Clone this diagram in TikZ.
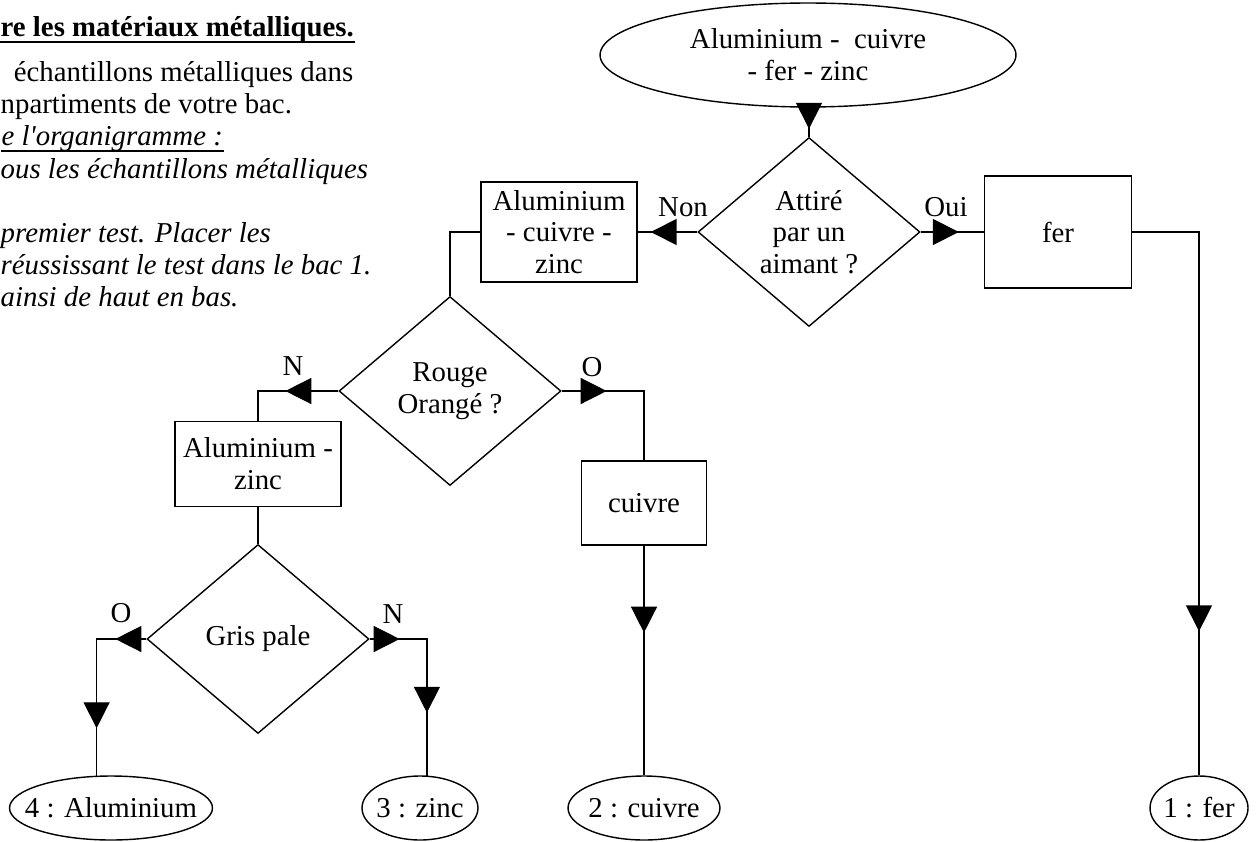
\documentclass[tikz,border=0pt]{standalone}
\usepackage{fontspec}
\setmainfont{Liberation Serif}
\usetikzlibrary{arrows.meta}
\usetikzlibrary{shapes.geometric}
\usetikzlibrary{decorations.markings}

\tikzset{
  flowtip/.tip={Triangle[length=5.2mm,width=5.2mm]},
  tipat/.style={postaction={decorate,decoration={markings,mark=at position #1 with {\arrow{flowtip}}}}},
  testbox/.style={draw,diamond,inner sep=0pt,minimum width=4.44cm,minimum height=3.78cm,align=center},
  lotbox/.style={draw,rectangle,inner sep=0pt,align=center},
  bacbox/.style={draw,ellipse,inner sep=0pt,minimum height=1.28cm},
  consigne/.style={anchor=base west,inner sep=0pt},
  souligne/.style={line width=0.9pt},
}

\begin{document}
\begin{tikzpicture}[x=0.02cm,y=-0.02cm,font=\fontsize{16.4}{18.1}\selectfont,line width=0.8pt]
            \useasboundingbox (0,0) rectangle (1256,841);
            \clip (0,0) rectangle (1256,841);

            % Consigne (cut on the left side)
            \node[consigne] (T1) at (0,37) {\textbf{re les matériaux métalliques.}};
            \node[consigne] (T2) at (6,82) {\ échantillons métalliques dans};
            \node[consigne] (T3) at (0,114) {npartiments de votre bac.};
            \node[consigne] (T4) at (1,146) {\itshape e l\textquotesingle organigramme :};
            \node[consigne] (T5) at (0,178) {\itshape ous les échantillons métalliques};
            \node[consigne] (T6) at (0,242) {\itshape premier test. Placer les};
            \node[consigne] (T7) at (0,274) {\itshape réussissant le test dans le bac 1.};
            \node[consigne] (T8) at (0,306) {\itshape ainsi de haut en bas.};
            \draw[souligne] ([yshift=-3pt]T1.base west) -- ([yshift=-3pt]T1.base east);
            \draw[souligne] ([yshift=-3pt]T4.base west) -- ([yshift=-3pt]T4.base east);

            % Draw start, tests and lots
            \node[draw,ellipse,inner sep=0pt,minimum width=8.32cm,minimum height=2.08cm,align=center] (E0) at (808,55) {Aluminium -\ \ cuivre\\- fer - zinc};
            \node[testbox] (D1) at (809,232) {Attiré\\par un\\aimant ?};
            \node[lotbox,minimum width=3.12cm,minimum height=2cm] (B1) at (559,232) {Aluminium\\- cuivre -\\zinc};
            \node[lotbox,minimum width=2.94cm,minimum height=2.24cm] (B0) at (1058,232) {fer};
            \node[testbox] (D2) at (450,391) {Rouge\\Orangé ?};
            \node[lotbox,minimum width=3.32cm,minimum height=1.7cm] (B2) at (258,464) {Aluminium -\\zinc};
            \node[lotbox,minimum width=2.5cm,minimum height=1.68cm] (B3) at (644,503) {cuivre};
            \node[testbox] (D3) at (258,639) {Gris pale};

            % Draw the bacs
            \node[bacbox,minimum width=4.06cm,label=center:{4 : Aluminium}] (E4) at (111,808) {};
            \node[bacbox,minimum width=2.32cm,label=center:{3 : zinc}] (E3) at (420,808) {};
            \node[bacbox,minimum width=3.04cm,label=center:{2 : cuivre}] (E2) at (644,808) {};
            \node[bacbox,minimum width=1.96cm,label=center:{1 : fer}] (E1) at (1199,808) {};

            % Draw connectors
            \draw[tipat=-0.16cm] (E0.south -| D1.north) -- (D1.north);
            \draw[tipat=-0.26cm] (D1.west) -- (B1.east);
            \draw[tipat=-0.5cm] (D1.east) -- (B0.west);
            \draw[tipat=-2.88cm] (B0.east) -| (E1.north);
            \draw (B1.west) -| (D2.north);
            \draw[tipat=1.06cm] (D2.west) -| (B2.north);
            \draw[tipat=0.9cm] (D2.east) -| (B3.north);
            \draw[tipat=1.74cm] (B3.south) -- (E2.north);
            \draw (B2.south) -- (D3.north);
            \draw[tipat=0.62cm,tipat=2.78cm] (D3.west) -| (E4.114);
            \draw[tipat=0.6cm,tipat=2.62cm] (D3.east) -| (E3.78);

            % Answers
            \node (oui) at (946,207) {Oui};
            \node (non) at (683,207) {Non};
            \node (n1) at (293,366) {N};
            \node (o1) at (592,367) {O};
            \node (o2) at (121,613) {O};
            \node (n2) at (393,614) {N};
\end{tikzpicture}
\end{document}
